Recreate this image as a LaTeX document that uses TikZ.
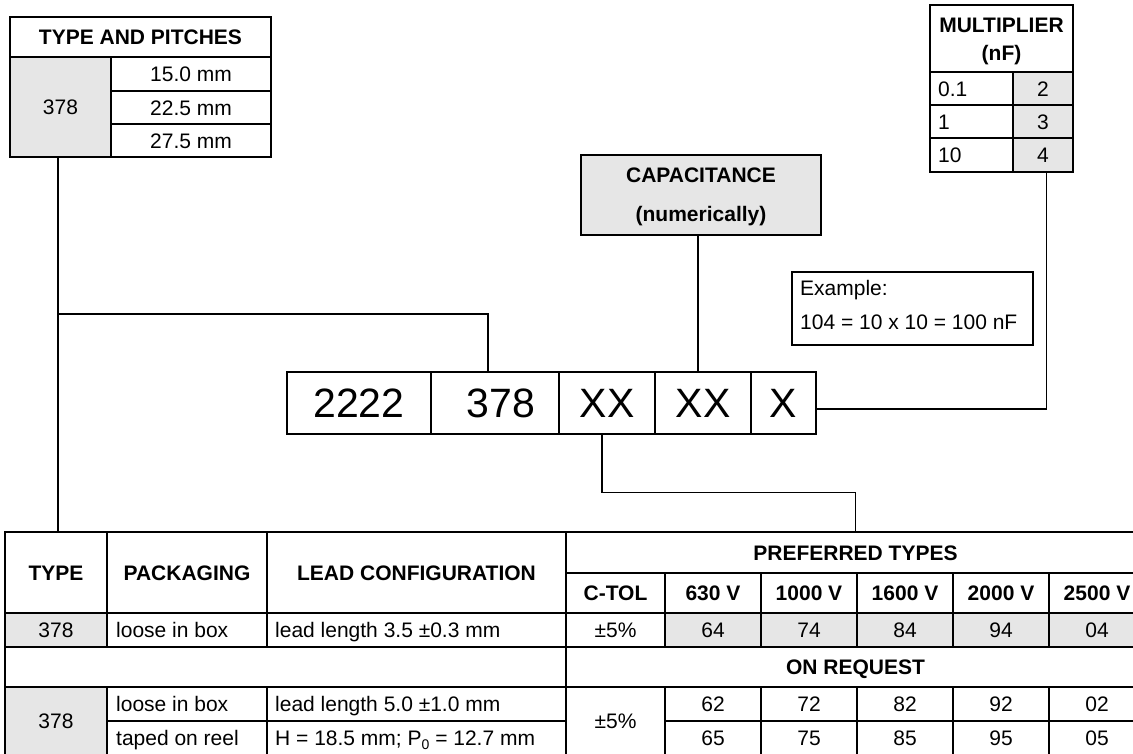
\documentclass[tikz,border=0pt]{standalone}
\usepackage{fontspec}
\setmainfont{Liberation Sans}
\definecolor{cellgray}{RGB}{230,230,230}
\tikzset{
  cellst/.style={draw, line width=1.5pt, inner sep=0pt, outer sep=0pt, anchor=center},
  gcell/.style={cellst, fill=cellgray},
  txt/.style={font=\fontsize{21}{25}\selectfont, inner sep=0pt, text height=15pt, text depth=0pt},
  btxt/.style={font=\bfseries\fontsize{21}{25}\selectfont, inner sep=0pt, text height=15pt, text depth=0pt},
  codest/.style={draw, line width=2pt, inner sep=0pt, outer sep=0pt, font=\fontsize{41}{41}\selectfont, text height=29.5pt, text depth=0pt},
  wire/.style={line width=1.5pt},
}
\newcommand\mycell[7]{\node[#6, minimum width={(#4-#2)*1pt}, minimum height={(#5-#3)*1pt}] (#1) at ({(#2+#4)/2},{(#3+#5)/2}) {#7};}
\begin{document}
\begin{tikzpicture}[x=1pt,y=-1pt]
\useasboundingbox (0,0) rectangle (1133,753);
\clip (0,0) rectangle (1133,753);
% type and pitches
\mycell{tpH}{10}{17}{271}{57}{cellst,btxt}{TYPE AND PITCHES}
\mycell{tp378}{10}{57}{111}{157}{gcell,txt}{378}
\mycell{tpA}{111}{57}{271}{91}{cellst,txt}{15.0 mm}
\mycell{tpB}{111}{91}{271}{124}{cellst,txt}{22.5 mm}
\mycell{tpC}{111}{124}{271}{157}{cellst,txt}{27.5 mm}
% multiplier
\mycell{mH}{930}{5}{1073}{72}{cellst}{}
\node[btxt] (mH1) at (1001.5,25) {MULTIPLIER};
\node[btxt] (mH2) at (1001.5,53) {(nF)};
\mycell{mA}{930}{72}{1013}{105}{cellst}{}
\node[txt,anchor=west] (mAt) at (938,88.5) {0.1};
\mycell{m2}{1013}{72}{1073}{105}{gcell,txt}{2}
\mycell{mB}{930}{105}{1013}{138}{cellst}{}
\node[txt,anchor=west] (mBt) at (938,121.5) {1};
\mycell{m3}{1013}{105}{1073}{138}{gcell,txt}{3}
\mycell{mC}{930}{138}{1013}{172}{cellst}{}
\node[txt,anchor=west] (mCt) at (938,155) {10};
\mycell{m4}{1013}{138}{1073}{172}{gcell,txt}{4}
% capacitance
\mycell{cap}{581}{155}{821}{235}{gcell}{}
\node[btxt] (capT1) at (701,175) {CAPACITANCE};
\node[btxt] (capT2) at (701,213.5) {(numerically)};
% example
\mycell{ex}{792}{272}{1033}{345}{cellst}{}
\node[txt,anchor=west] (exT1) at (800,288) {Example:};
\node[txt,anchor=west] (exT2) at (800,322) {104 = 10 x 10 = 100 nF};
% code
\mycell{c2222}{287}{372}{431}{434}{codest}{2222}
\mycell{c378}{431}{372}{559}{434}{codest}{\hspace*{12pt}378}
\mycell{cxx1}{559}{372}{655}{434}{codest}{XX}
\mycell{cxx2}{655}{372}{751}{434}{codest}{XX}
\mycell{cx}{751}{372}{815.5}{434}{codest}{X}
% big table header
\mycell{hType}{5}{532}{107}{613}{cellst,btxt}{TYPE}
\mycell{hPack}{107}{532}{267}{613}{cellst,btxt}{PACKAGING}
\mycell{hLead}{267}{532}{566}{613}{cellst,btxt}{LEAD CONFIGURATION}
\mycell{hPref}{566}{532}{1145}{573}{cellst,btxt}{PREFERRED TYPES}
\mycell{hTol}{566}{573}{665}{613}{cellst,btxt}{C-TOL}
\mycell{h630}{665}{573}{761}{613}{cellst,btxt}{630 V}
\mycell{h1000}{761}{573}{857}{613}{cellst,btxt}{1000 V}
\mycell{h1600}{857}{573}{953}{613}{cellst,btxt}{1600 V}
\mycell{h2000}{953}{573}{1049}{613}{cellst,btxt}{2000 V}
\mycell{h2500}{1049}{573}{1145}{613}{cellst,btxt}{2500 V}
% row 1
\mycell{r1t}{5}{613}{107}{647}{gcell,txt}{378}
\mycell{r1p}{107}{613}{267}{647}{cellst}{}
\node[txt,anchor=west] (r1pt) at (116,630) {loose in box};
\mycell{r1l}{267}{613}{566}{647}{cellst}{}
\node[txt,anchor=west] (r1lt) at (275,630) {lead length 3.5 ±0.3 mm};
\mycell{r1c}{566}{613}{665}{647}{cellst,txt}{±5\%}
\mycell{r1a}{665}{613}{761}{647}{gcell,txt}{64}
\mycell{r1b}{761}{613}{857}{647}{gcell,txt}{74}
\mycell{r1d}{857}{613}{953}{647}{gcell,txt}{84}
\mycell{r1e}{953}{613}{1049}{647}{gcell,txt}{94}
\mycell{r1f}{1049}{613}{1145}{647}{gcell,txt}{04}
% row 2
\mycell{r2e}{5}{647}{566}{687}{cellst}{}
\mycell{r2o}{566}{647}{1145}{687}{cellst,btxt}{ON REQUEST}
% rows 3-4
\mycell{r3t}{5}{687}{107}{755}{gcell,txt}{378}
\mycell{r3p}{107}{687}{267}{721}{cellst}{}
\node[txt,anchor=west] (r3pt) at (116,704) {loose in box};
\mycell{r4p}{107}{721}{267}{755}{cellst}{}
\node[txt,anchor=west] (r4pt) at (116,737.5) {taped on reel};
\mycell{r3l}{267}{687}{566}{721}{cellst}{}
\node[txt,anchor=west] (r3lt) at (275,704) {lead length 5.0 ±1.0 mm};
\mycell{r4l}{267}{721}{566}{755}{cellst}{}
\node[txt,anchor=west] (r4lt) at (275,737.5) {H = 18.5 mm; P\raisebox{-4pt}{\fontsize{14}{14}\selectfont 0} = 12.7 mm};
\mycell{r3c}{566}{687}{665}{755}{cellst,txt}{±5\%}
\mycell{r3a}{665}{687}{761}{721}{cellst,txt}{62}
\mycell{r3b}{761}{687}{857}{721}{cellst,txt}{72}
\mycell{r3d}{857}{687}{953}{721}{cellst,txt}{82}
\mycell{r3e}{953}{687}{1049}{721}{cellst,txt}{92}
\mycell{r3f}{1049}{687}{1145}{721}{cellst,txt}{02}
\mycell{r4a}{665}{721}{761}{755}{cellst,txt}{65}
\mycell{r4b}{761}{721}{857}{755}{cellst,txt}{75}
\mycell{r4d}{857}{721}{953}{755}{cellst,txt}{85}
\mycell{r4e}{953}{721}{1049}{755}{cellst,txt}{95}
\mycell{r4f}{1049}{721}{1145}{755}{cellst,txt}{05}
% connectors
\coordinate (jA) at (58,314);
\draw[wire] ([xshift=-2.5pt]tp378.south) -- ([xshift=-2.5pt]tp378.south |- hType.north);
\draw[wire] ([xshift=-7pt]c378.north) |- (jA);
\draw[wire] ([xshift=-3pt]cap.south) -- ([xshift=-3pt]cap.south |- cxx2.north);
\draw[wire] ([xshift=3.5pt]m4.south) |- ([yshift=-6pt]cx.east);
\draw[wire] ([xshift=-5pt]cxx1.south) -- ++(0,58.5) -| (hPref.north);
\end{tikzpicture}
\end{document}
